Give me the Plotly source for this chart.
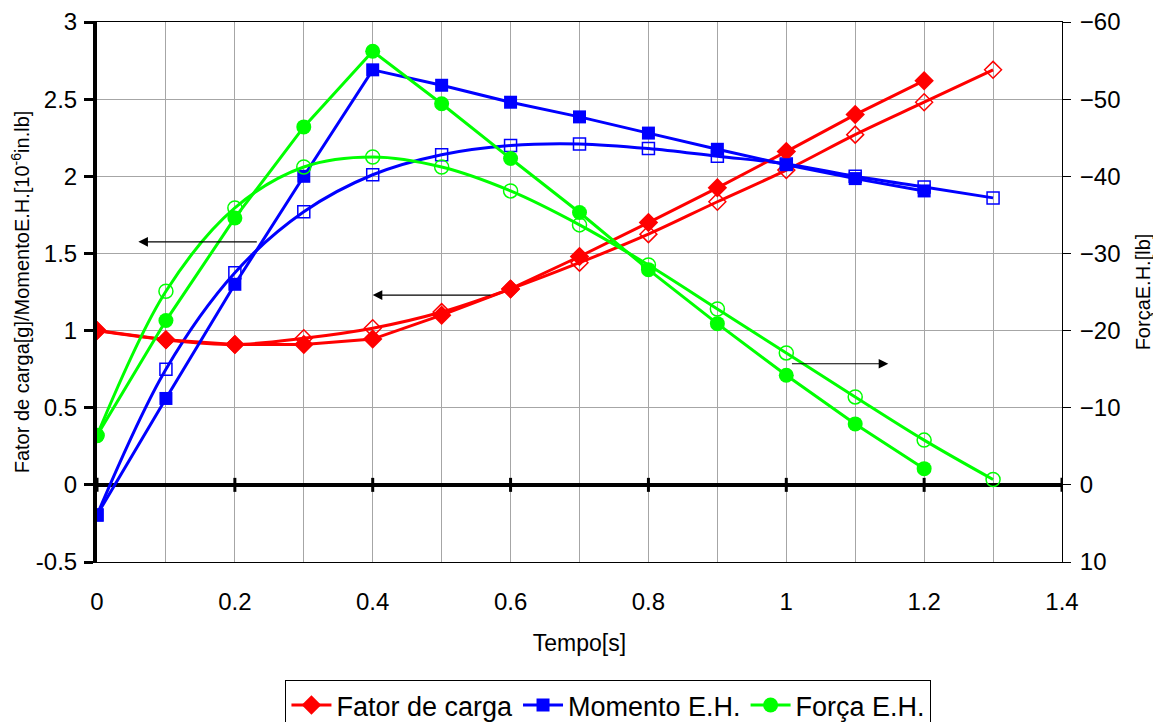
import plotly.graph_objects as go

# ---- data ----
tempo_a = [0, 0.1, 0.2, 0.3, 0.4, 0.5, 0.6, 0.7, 0.8, 0.9, 1.0, 1.1, 1.2]
tempo_b = [0, 0.1, 0.2, 0.3, 0.4, 0.5, 0.6, 0.7, 0.8, 0.9, 1.0, 1.1, 1.2, 1.3]

fator_a = [1.0, 0.94, 0.91, 0.91, 0.945, 1.10, 1.27, 1.48, 1.70, 1.925, 2.16, 2.40, 2.62]
fator_b = [1.0, 0.94, 0.91, 0.95, 1.015, 1.12, 1.27, 1.44, 1.625, 1.835, 2.04, 2.27, 2.48, 2.69]

momento_a = [-0.195, 0.56, 1.30, 2.00, 2.69, 2.59, 2.48, 2.385, 2.28, 2.175, 2.075, 1.985, 1.905]
momento_b = [-0.195, 0.75, 1.375, 1.77, 2.01, 2.14, 2.20, 2.21, 2.18, 2.13, 2.08, 2.00, 1.93, 1.86]

forca_a = [-6.4, -21.3, -34.6, -46.4, -56.2, -49.4, -42.3, -35.3, -27.9, -20.9, -14.2, -7.9, -2.1]
forca_b = [-6.4, -25.1, -35.9, -41.2, -42.5, -41.2, -38.1, -33.7, -28.5, -22.8, -17.1, -11.4, -5.8, -0.7]

x_ticks = [0, 0.2, 0.4, 0.6, 0.8, 1.0, 1.2, 1.4]
x_labels = ["0", "0.2", "0.4", "0.6", "0.8", "1", "1.2", "1.4"]
y_ticks = [-0.5, 0, 0.5, 1, 1.5, 2, 2.5, 3]
y_labels = ["-0.5", "0", "0.5", "1", "1.5", "2", "2.5", "3"]

RED, BLUE, GREEN = "#FF0000", "#0000FF", "#00FF00"
FONT = "Arial, Liberation Sans, sans-serif"

fig = go.Figure()

# open (smoothed) series, not in legend
fig.add_trace(go.Scatter(x=tempo_b, y=fator_b, mode="lines+markers", showlegend=False,
                         line=dict(color=RED, width=3, shape="spline"),
                         marker=dict(symbol="diamond-open", size=13, color=RED, line=dict(width=1.5))))
fig.add_trace(go.Scatter(x=tempo_b, y=momento_b, mode="lines+markers", showlegend=False,
                         line=dict(color=BLUE, width=3, shape="spline"),
                         marker=dict(symbol="square-open", size=12, color=BLUE, line=dict(width=1.5))))
fig.add_trace(go.Scatter(x=tempo_b, y=forca_b, mode="lines+markers", showlegend=False, yaxis="y2",
                         line=dict(color=GREEN, width=3, shape="spline"),
                         marker=dict(symbol="circle-open", size=14, color=GREEN, line=dict(width=1.5))))

# filled series
fig.add_trace(go.Scatter(x=tempo_a, y=fator_a, mode="lines+markers", name="Fator de carga",
                         line=dict(color=RED, width=3),
                         marker=dict(symbol="diamond", size=15, color=RED)))
fig.add_trace(go.Scatter(x=tempo_a, y=momento_a, mode="lines+markers", name="Momento E.H.",
                         line=dict(color=BLUE, width=3),
                         marker=dict(symbol="square", size=13, color=BLUE)))
fig.add_trace(go.Scatter(x=tempo_a, y=forca_a, mode="lines+markers", name="Força E.H.", yaxis="y2",
                         line=dict(color=GREEN, width=3),
                         marker=dict(symbol="circle", size=15, color=GREEN)))

# tick marks on the zero line
fig.add_trace(go.Scatter(x=x_ticks, y=[0] * len(x_ticks), mode="markers", showlegend=False,
                         hoverinfo="skip",
                         marker=dict(symbol="line-ns", size=10, line=dict(color="black", width=3))))

# arrows
arrow = dict(xref="x", yref="y", axref="x", ayref="y", text="", showarrow=True,
             arrowhead=2, arrowsize=1.6, arrowwidth=1.2, arrowcolor="black")
fig.add_annotation(x=0.06, y=1.575, ax=0.234, ay=1.575, **arrow)
fig.add_annotation(x=0.40, y=1.23, ax=0.573, ay=1.23, **arrow)
fig.add_annotation(x=1.148, y=0.785, ax=1.006, ay=0.785, **arrow)

fig.update_layout(
    width=1161, height=740,
    margin=dict(l=89, r=107, t=14, b=186),
    paper_bgcolor="white", plot_bgcolor="white",
    font=dict(family=FONT, color="black"),
    xaxis=dict(range=[0, 1.4], tickvals=x_ticks, ticktext=x_labels, automargin=False,
               tickfont=dict(size=24), ticks="", ticklabelstandoff=18,
               showgrid=True, gridcolor="#A6A6A6", gridwidth=1,
               minor=dict(dtick=0.1, tick0=0, showgrid=True, gridcolor="#A6A6A6", gridwidth=1),
               showline=True, mirror=True, linecolor="black", linewidth=1, zeroline=False,
               title=dict(text="Tempo[s]", font=dict(size=23), standoff=21)),
    yaxis=dict(range=[-0.5, 3], tickvals=y_ticks, ticktext=y_labels, automargin=False,
               tickfont=dict(size=24), ticks="outside", ticklen=9, tickwidth=3, tickcolor="black",
               ticklabelstandoff=2,
               showgrid=True, gridcolor="#A6A6A6", gridwidth=1,
               showline=True, linecolor="black", linewidth=4,
               zeroline=True, zerolinecolor="black", zerolinewidth=4,
               title=dict(text="Fator de carga[g]/MomentoE.H.[10<sup>-6</sup>in.lb]", font=dict(size=20), standoff=10)),
    yaxis2=dict(range=[10, -60], dtick=10, overlaying="y", side="right", automargin=False,
                tickfont=dict(size=24), ticks="outside", ticklen=8, tickwidth=1, tickcolor="black",
                ticklabelstandoff=4,
                showgrid=False, zeroline=False, showline=True, linecolor="black", linewidth=1,
                title=dict(text="ForçaE.H.[lb]", font=dict(size=20), standoff=16)),
    legend=dict(orientation="h", x=0.53, xanchor="center", y=-0.2185, yanchor="top",
                bordercolor="black", borderwidth=1, bgcolor="white",
                font=dict(size=27, family=FONT), itemwidth=40, tracegroupgap=0),
)

fig.write_html("out.html")
